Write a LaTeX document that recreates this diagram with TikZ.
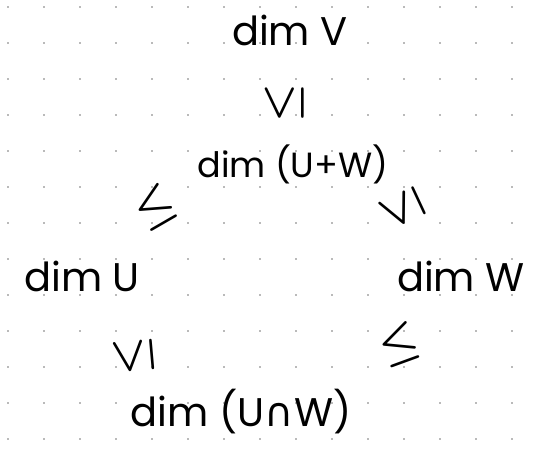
\documentclass[tikz,border=0pt]{standalone}
\usepackage{fontspec}
\setmainfont{Poppins}
\newfontfamily\relfont{DejaVu Sans}
\usetikzlibrary{positioning}
\tikzset{
  dimlabel/.style={font=\fontsize{40}{44}\selectfont, inner sep=0pt},
  relsign/.style={font=\fontsize{20}{24}\selectfont\boldmath, inner sep=0pt, scale=2.1},
  gridpoint/.style={fill=black!55},
}

\begin{document}
\begin{tikzpicture}[x=1pt, y=-1pt]
  \useasboundingbox (0,0) rectangle (535,450);

  %% dotted paper
  \foreach \i in {0,...,14}
    \foreach \j in {0,...,12}
      \fill[gridpoint] (8+36*\i,7+36*\j) circle (0.9);

  %% dimensions
  \node[dimlabel] (dimV)   at (290,30)  {dim V};
  \node[dimlabel, font=\fontsize{35}{40}\selectfont] (dimSum) at (293,164) {dim (U+W)};
  \node[dimlabel] (dimU)   at (82,276)  {dim U};
  \node[dimlabel] (dimW)   at (461,276) {dim W};
  \node[dimlabel] (dimCap) at (241,412) {dim (U{\relfont ∩}W)};

  %% inequalities
  \node[relsign, rotate=90]  (leqVS) at (285,103) {$\leq$};
  \node[relsign, rotate=30]  (leqUS) at (155,207) {$\leq$};
  \node[relsign, rotate=115] (leqWS) at (402,208) {$\leq$};
  \node[relsign, rotate=95]  (leqCU) at (134,356) {$\leq$};
  \node[relsign, rotate=20]  (leqCW) at (399,345) {$\leq$};

\end{tikzpicture}
\end{document}
